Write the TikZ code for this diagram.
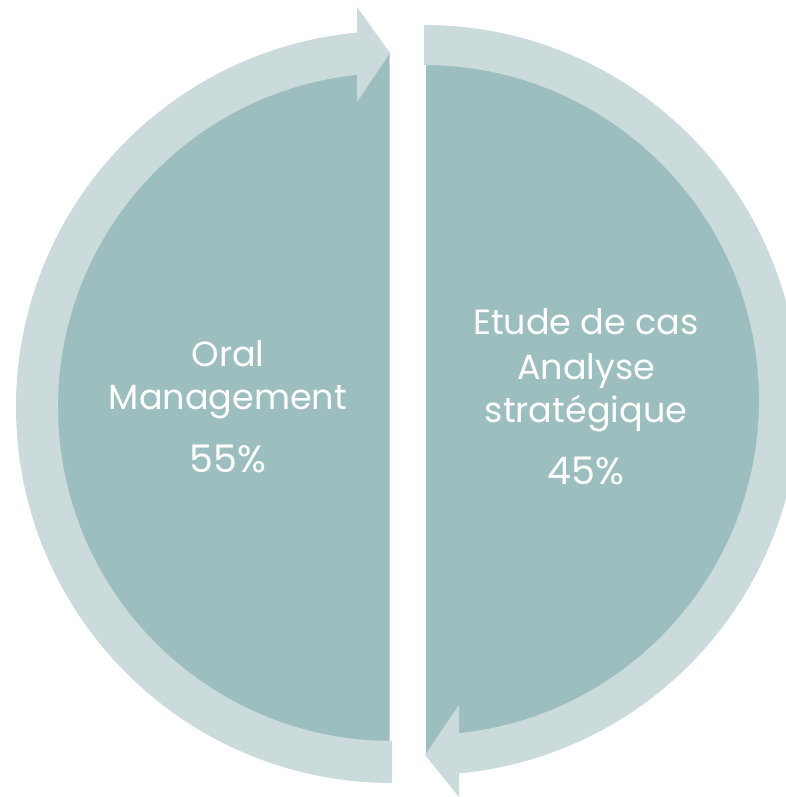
\documentclass[tikz,border=0pt]{standalone}
\usepackage{fontspec}
\setmainfont{Poppins}
\usepackage{tikz}
\usetikzlibrary{positioning,calc}
\definecolor{darkteal}{RGB}{157,190,190}
\definecolor{lightteal}{RGB}{203,219,219}

\begin{document}
\begin{tikzpicture}[
    x=1pt, y=1pt,
    half/.style={fill=darkteal},
    ring/.style={fill=lightteal},
    txt/.style={text=white, anchor=base, font=\fontsize{35}{42}\selectfont, inner sep=0pt},
    pct/.style={txt, font=\fontsize{38}{45}\selectfont}
]
\useasboundingbox (0,0) rectangle (786,797);

% centres of the two halves
\coordinate (cl) at (392,390);
\coordinate (cr) at (424,397);

% dark halves
\begin{scope}
  \clip (0,0) rectangle (389.5,797);
  \fill[half] (cl) circle (355);
\end{scope}
\begin{scope}
  \clip (426,0) rectangle (786,797);
  \fill[half] (cr) circle (355);
\end{scope}

% left ring with arrow pointing right at the top
\fill[ring] ($(cl)+(270:376)$) arc[start angle=270, end angle=95, radius=376]
  -- ($(cl)+(95:334)$) arc[start angle=95, end angle=270, radius=334] -- cycle;
\coordinate (tipl) at (390,744);
\fill[ring] (357,790) -- (tipl) -- (357,695) -- cycle;

% right ring with arrow pointing left at the bottom
\fill[ring] ($(cr)+(90:375)$) arc[start angle=90, end angle=-85, radius=375]
  -- ($(cr)+(-85:335)$) arc[start angle=-85, end angle=90, radius=335] -- cycle;
\coordinate (tipr) at (425,42);
\fill[ring] (459,92) -- (tipr) -- (459,0) -- cycle;

% texts
\node[txt] (oral) at (228,430) {Oral};
\node[txt] (mgmt) at (228,387) {Management};
\node[pct] (pl) at (228,324) {55\%};

\node[txt] (etude) at (586,462) {Etude de cas};
\node[txt] (analyse) at (586,417) {Analyse};
\node[txt] (strat) at (586,374) {stratégique};
\node[pct] (pr) at (586,312) {45\%};

\end{tikzpicture}
\end{document}
